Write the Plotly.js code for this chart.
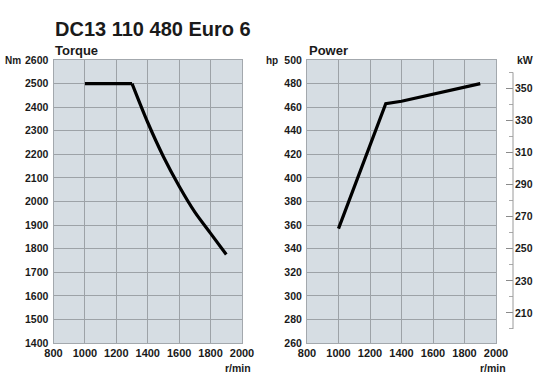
<!DOCTYPE html>
<html>
<head>
<meta charset="utf-8">
<script src="https://cdn.plot.ly/plotly-3.0.1.min.js"></script>
<style>html,body{margin:0;padding:0;background:#fff}#chart{width:550px;height:384px}</style>
</head>
<body>
<div id="chart"></div>
<script>
// ---- data ----
var chartTitle = "DC13 110 480 Euro 6";
var rpm = [1000, 1300, 1400, 1500, 1600, 1700, 1800, 1900];
var torqueNm = [2500, 2500, 2335, 2190, 2065, 1955, 1865, 1775];
var powerHp = [357, 463, 465, 468, 471, 474, 477, 480];
var rpmTicks = [800, 1000, 1200, 1400, 1600, 1800, 2000];
var torqueTicks = [1400, 1500, 1600, 1700, 1800, 1900, 2000, 2100, 2200, 2300, 2400, 2500, 2600];
var powerTicks = [260, 280, 300, 320, 340, 360, 380, 400, 420, 440, 460, 480, 500];
var kwTicks = [210, 230, 250, 270, 290, 310, 330, 350];
var kwMinorTicks = [200, 220, 240, 260, 280, 300, 320, 340, 360];

// ---- layout geometry ----
var W = 550, H = 384;
var topPx = 60, botPx = 343;
var hpRange = [260, 500];
var kwPerHp = 0.7355;
var kwAxisRange = [hpRange[0] * kwPerHp, hpRange[1] * kwPerHp];
var kwLineSpan = [200, 360];
function fy(px){ return 1 - px / H; }

var FONT = "Liberation Sans, Arial, sans-serif";
var txt = "#1a1a1a";
var bg = "#d6dde3";
var grid = "#9da2a7";
var border = "#a3a8ad";
var kneeIdx = 1; // end of the flat torque section

var traces = [
  {x: rpm.slice(0, kneeIdx + 1), y: torqueNm.slice(0, kneeIdx + 1), xaxis: "x", yaxis: "y", mode: "lines",
   line: {color: "#000", width: 3.2}, hoverinfo: "skip", showlegend: false},
  {x: rpm.slice(kneeIdx), y: torqueNm.slice(kneeIdx), xaxis: "x", yaxis: "y", mode: "lines",
   line: {color: "#000", width: 3.2, shape: "spline", smoothing: 0.8}, hoverinfo: "skip", showlegend: false},
  {x: [], y: [], xaxis: "x2", yaxis: "y3", mode: "lines", hoverinfo: "skip", showlegend: false},
  {x: rpm, y: powerHp, xaxis: "x2", yaxis: "y2", mode: "lines",
   line: {color: "#000", width: 3.2}, hoverinfo: "skip", showlegend: false}
];

function xAxis(domain, anchor){
  return {domain: domain, anchor: anchor, range: [800, 2000], tickvals: rpmTicks,
    ticktext: rpmTicks.map(String), showgrid: true, gridcolor: grid, gridwidth: 1,
    showline: true, linecolor: border, linewidth: 1, mirror: true, ticks: "",
    zeroline: false, fixedrange: true,
    tickfont: {family: FONT, size: 11, color: txt, weight: "bold"}};
}
function yAxis(domain, anchor, range, ticks){
  return {domain: domain, anchor: anchor, range: range, tickvals: ticks,
    ticktext: ticks.map(String), showgrid: true, gridcolor: grid, gridwidth: 1,
    showline: true, linecolor: border, linewidth: 1, mirror: true, ticks: "",
    zeroline: false, fixedrange: true, ticklabelstandoff: 2,
    tickfont: {family: FONT, size: 10.5, color: txt, weight: "bold"}};
}

var yd = [fy(botPx), fy(topPx)];
var kwX = 513 / W;
var layout = {
  width: W, height: H,
  margin: {l: 0, r: 0, t: 0, b: 0},
  paper_bgcolor: "#fff", plot_bgcolor: bg,
  showlegend: false,
  xaxis: xAxis([53.5 / W, 242 / W], "y"),
  yaxis: yAxis(yd, "x", [1400, 2600], torqueTicks),
  xaxis2: xAxis([307 / W, 496 / W], "y2"),
  yaxis2: yAxis(yd, "x2", hpRange, powerTicks),
  yaxis3: {overlaying: "y2", anchor: "free", position: kwX,
    side: "right", range: kwAxisRange, tickvals: kwTicks,
    ticktext: kwTicks.map(String), showgrid: false, zeroline: false,
    showline: false,
    ticks: "inside", ticklen: 7, tickcolor: "#8a8a8a", tickwidth: 1,
    minor: {tickvals: kwMinorTicks, ticks: "inside", ticklen: 4, tickcolor: "#aaaaaa", showgrid: false},
    fixedrange: true, ticklabelstandoff: 1,
    tickfont: {family: FONT, size: 10.5, color: txt, weight: "bold"}},
  shapes: [
    {type: "line", xref: "paper", yref: "y3", x0: kwX, x1: kwX, y0: kwLineSpan[0], y1: kwLineSpan[1],
     line: {color: "#9a9a9a", width: 1}}
  ],
  annotations: [
    {text: chartTitle, xref: "paper", yref: "paper", x: 53 / W, y: fy(16), xanchor: "left", yanchor: "top",
     showarrow: false, font: {family: FONT, size: 20, color: txt, weight: "bold"}},
    {text: "Torque", xref: "paper", yref: "paper", x: 53 / W, y: fy(41), xanchor: "left", yanchor: "top",
     showarrow: false, font: {family: FONT, size: 13, color: txt, weight: "bold"}},
    {text: "Power", xref: "paper", yref: "paper", x: 307 / W, y: fy(41), xanchor: "left", yanchor: "top",
     showarrow: false, font: {family: FONT, size: 13, color: txt, weight: "bold"}},
    {text: "Nm", xref: "paper", yref: "paper", x: 23 / W, y: fy(61), xanchor: "right", yanchor: "middle",
     showarrow: false, font: {family: FONT, size: 10, color: txt, weight: "bold"}},
    {text: "hp", xref: "paper", yref: "paper", x: 280 / W, y: fy(61), xanchor: "right", yanchor: "middle",
     showarrow: false, font: {family: FONT, size: 10, color: txt, weight: "bold"}},
    {text: "kW", xref: "paper", yref: "paper", x: 525 / W, y: fy(60), xanchor: "center", yanchor: "middle",
     showarrow: false, font: {family: FONT, size: 10.5, color: txt, weight: "bold"}},
    {text: "r/min", xref: "paper", yref: "paper", x: 253 / W, y: fy(368), xanchor: "right", yanchor: "middle",
     showarrow: false, font: {family: FONT, size: 10.5, color: txt, weight: "bold"}},
    {text: "r/min", xref: "paper", yref: "paper", x: 508 / W, y: fy(368), xanchor: "right", yanchor: "middle",
     showarrow: false, font: {family: FONT, size: 10.5, color: txt, weight: "bold"}}
  ]
};

Plotly.newPlot("chart", traces, layout, {staticPlot: true, displayModeBar: false});
</script>
</body>
</html>
